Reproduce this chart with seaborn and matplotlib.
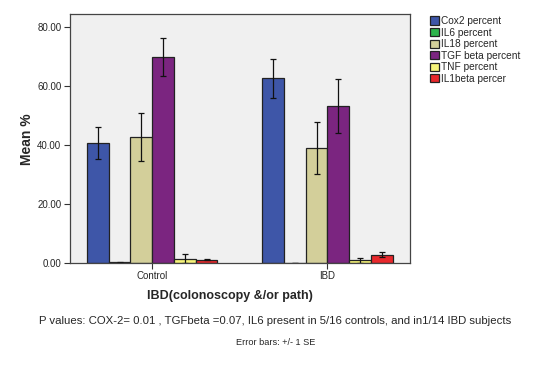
import numpy as np
import pandas as pd
import matplotlib
matplotlib.use("Agg")
import matplotlib.pyplot as plt
import seaborn as sns

groups = ["Control", "IBD"]
markers = ["Cox2 percent", "IL6 percent", "IL18 percent", "TGF beta percent", "TNF percent", "IL1beta percer"]
control_mean = [40.8, 0.3, 42.8, 70.0, 1.5, 1.2]
control_se = [5.5, 0.2, 8.2, 6.4, 1.5, 0.3]
ibd_mean = [62.7, 0.0, 39.0, 53.3, 0.9, 2.9]
ibd_se = [6.6, 0.0, 8.7, 9.1, 0.8, 0.8]
colors = ["#3e56a8", "#2db44b", "#d3cf9a", "#7b2580", "#f6f47a", "#e8282c"]

df = pd.DataFrame({
    "group": np.repeat(groups, len(markers)),
    "marker": markers * len(groups),
    "mean": control_mean + ibd_mean,
    "se": control_se + ibd_se,
})

sns.set_theme(style="white")
plt.rcParams["font.family"] = ["Liberation Sans", "DejaVu Sans"]

fig = plt.figure(figsize=(5.45, 3.67), dpi=100)
ax = fig.add_axes([0.128, 0.283, 0.624, 0.679])
ax.set_facecolor("#f0f0f0")

sns.barplot(data=df, x="group", y="mean", hue="marker", hue_order=markers,
            palette=colors, errorbar=None, width=0.745, gap=0,
            edgecolor="#222222", linewidth=0.9, saturation=1, ax=ax, legend=True)

# error bars from the bar positions seaborn laid out
for container, m in zip(ax.containers, markers):
    sub = df[df["marker"] == m].set_index("group").loc[groups]
    xs = [p.get_x() + p.get_width() / 2 for p in container.patches]
    ax.errorbar(xs, sub["mean"], yerr=sub["se"], fmt="none", ecolor="#111111",
                elinewidth=0.9, capsize=2.5, capthick=0.9)

ax.set_xlim(-0.47, 1.47)
ax.set_ylim(0, 84.5)
ax.set_yticks([0, 20, 40, 60, 80])
ax.set_yticklabels(["0.00", "20.00", "40.00", "60.00", "80.00"])
ax.tick_params(axis="both", labelsize=7, length=4, width=0.8, color="#333333",
               direction="out", left=True, bottom=True, pad=2)
ax.set_xlabel("")
ax.set_ylabel("")
fig.text(0.05, 0.62, "Mean %", rotation=90, ha="center", va="center",
         fontsize=10, fontweight="bold")
for s in ax.spines.values():
    s.set_color("#444444")
    s.set_linewidth(0.9)

ax.legend(loc="upper left", bbox_to_anchor=(0.782, 0.967), bbox_transform=fig.transFigure,
          frameon=False, fontsize=7.3, handlelength=0.9, handleheight=0.9,
          handletextpad=0.15, labelspacing=0.15, borderaxespad=0)

fig.text(0.422, 0.193, "IBD(colonoscopy &/or path)", ha="center", va="center",
         fontsize=9, fontweight="bold")
fig.text(0.505, 0.125, "P values: COX-2= 0.01 , TGFbeta =0.07, IL6 present in 5/16 controls, and in1/14 IBD subjects",
         ha="center", va="center", fontsize=8.2)
fig.text(0.505, 0.068, "Error bars: +/- 1 SE", ha="center", va="center", fontsize=6.6)

fig.savefig("out.png", dpi=100, facecolor="white")
